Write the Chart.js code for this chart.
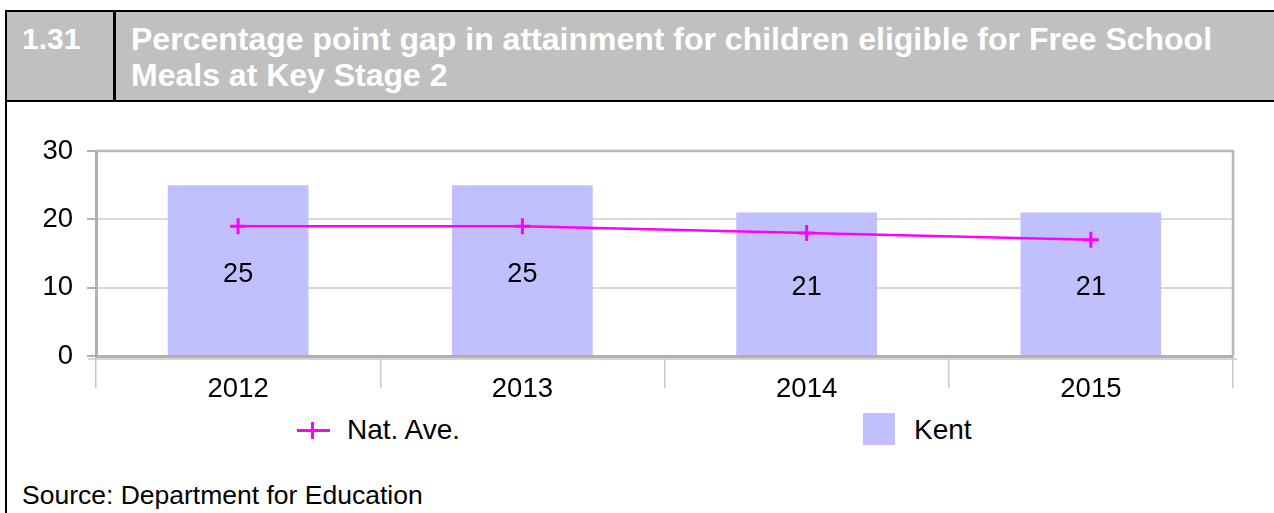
<!DOCTYPE html>
<html>
<head>
<meta charset="utf-8">
<script src="https://cdn.jsdelivr.net/npm/chart.js@4"></script>
<style>
  body { margin: 0; background: #fff; font-family: "Liberation Sans", Arial, sans-serif; }
  #page { position: relative; width: 1274px; height: 513px; overflow: hidden; }
  #head { position: absolute; left: 5px; top: 10px; width: 1280px; height: 88px;
          background: #c0c0c0; border-top: 2px solid #000; border-bottom: 2px solid #000; }
  #num { position: absolute; left: 0; top: 0; width: 106px; height: 88px;
         border-left: 2px solid #000; border-right: 3px solid #000; }
  #num span, #title { position: absolute; color: #fff; font-weight: bold; line-height: 36px; }
  #num span { left: 15px; top: 9px; font-size: 30px; }
  #title { left: 126px; top: 9px; width: 1105px; font-size: 32px; }
  #leftrule { position: absolute; left: 5px; top: 100px; width: 2px; height: 420px; background: #000; }
  #wrap { position: absolute; left: 0; top: 105px; width: 1274px; height: 300px; }
  .leg { position: absolute; font-size: 28px; color: #000; line-height: 32px; }
  #source { position: absolute; left: 22px; top: 480px; font-size: 26.5px; color: #000; }
</style>
</head>
<body>
<div id="page">
  <div id="head">
    <div id="num"><span>1.31</span></div>
    <div id="title">Percentage point gap in attainment for children eligible for Free School Meals at Key Stage 2</div>
  </div>
  <div id="leftrule"></div>
  <div id="wrap"><canvas id="chart"></canvas></div>
  <div id="legend"></div>
  <div id="source">Source: Department for Education</div>
</div>
<script>
const years = ['2012', '2013', '2014', '2015'];
const kentGap = [25, 25, 21, 21];
const nationalGap = [19, 19, 18, 17];
const seriesNames = ['Nat. Ave.', 'Kent'];

const FONT = '"Liberation Sans", Arial, sans-serif';

// value labels in the middle of each bar, plus the plot frame
const extras = {
  id: 'extras',
  afterDatasetsDraw(chart) {
    const ctx = chart.ctx;
    const meta = chart.getDatasetMeta(1);
    ctx.save();
    ctx.font = '27px ' + FONT;
    ctx.fillStyle = '#000';
    ctx.textAlign = 'center';
    ctx.textBaseline = 'middle';
    meta.data.forEach(function(bar, i) {
      ctx.fillText(String(kentGap[i]), bar.x, (bar.y + bar.base) / 2 + 4);
    });
    ctx.restore();
  },
  afterDraw(chart) {
    const a = chart.chartArea;
    const ctx = chart.ctx;
    ctx.save();
    ctx.strokeStyle = '#b8b8b8';
    ctx.lineWidth = 2.5;
    ctx.beginPath();
    ctx.moveTo(a.left, a.top);
    ctx.lineTo(a.right, a.top);
    ctx.lineTo(a.right, a.bottom);
    ctx.stroke();
    ctx.strokeStyle = '#c8c8c8';
    ctx.lineWidth = 1.5;
    ctx.beginPath();
    ctx.moveTo(a.left - 8, a.bottom + 3);
    ctx.lineTo(a.right + 4, a.bottom + 3);
    ctx.stroke();
    ctx.restore();
  }
};

new Chart(document.getElementById('chart').getContext('2d'), {
  type: 'bar',
  data: {
    labels: years,
    datasets: [{
      type: 'line',
      label: seriesNames[0],
      data: nationalGap,
      borderColor: '#ff00ff',
      backgroundColor: '#ff00ff',
      borderWidth: 2.5,
      pointStyle: 'cross',
      pointRadius: 8,
      pointBorderWidth: 3,
      tension: 0,
      order: 0
    }, {
      label: seriesNames[1],
      data: kentGap,
      backgroundColor: '#c0c0ff',
      categoryPercentage: 1,
      barPercentage: 0.495,
      order: 1
    }]
  },
  options: {
    responsive: true,
    maintainAspectRatio: false,
    animation: false,
    layout: { padding: { left: 0, right: 41, top: 46, bottom: 0 } },
    plugins: { legend: { display: false }, tooltip: { enabled: false } },
    scales: {
      x: {
        offset: true,
        grid: { display: true, drawOnChartArea: false, offset: true, color: '#c8c8c8', lineWidth: 1.5, tickLength: 32 },
        border: { color: '#b0b0b0', width: 3 },
        ticks: { color: '#000', font: { size: 27.5, family: FONT }, padding: -15, maxRotation: 0 },
        afterFit(s) { s.height = 49; }
      },
      y: {
        min: 0,
        max: 30,
        ticks: { stepSize: 10, color: '#000', font: { size: 27.5, family: FONT }, padding: 14 },
        grid: { color: '#d9d9d9', lineWidth: 2, tickColor: '#b0b0b0', tickLength: 9 },
        border: { color: '#b0b0b0', width: 3 },
        afterFit(s) { s.width = 96; }
      }
    }
  },
  plugins: [extras]
});

// legend, built from the series names
const legend = document.getElementById('legend');
legend.innerHTML =
  '<div style="position:absolute;left:297px;top:429px;width:33px;height:2.5px;background:#ff00ff"></div>' +
  '<div style="position:absolute;left:311px;top:422px;width:2.5px;height:17px;background:#ff00ff"></div>' +
  '<div class="leg" style="left:347px;top:414px">' + seriesNames[0] + '</div>' +
  '<div style="position:absolute;left:863px;top:413px;width:32px;height:32px;background:#c0c0ff"></div>' +
  '<div class="leg" style="left:914px;top:414px">' + seriesNames[1] + '</div>';
</script>
</body>
</html>
